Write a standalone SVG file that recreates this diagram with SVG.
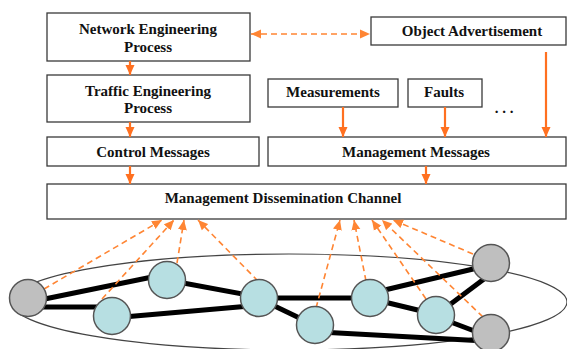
<svg xmlns="http://www.w3.org/2000/svg" width="567" height="349" viewBox="0 0 567 349">
  <style>
    .box { fill: #ffffff; stroke: #3a3a3a; stroke-width: 1.3; }
    .lbl { font-family: "Liberation Serif", "Times New Roman", serif; font-weight: bold; font-size: 15px; fill: #111; text-anchor: middle; }
    .flow { stroke: #ff7020; stroke-width: 2.2; fill: none; marker-end: url(#solidHead); }
    .report { stroke: #ff8533; stroke-width: 1.6; stroke-dasharray: 6 4; fill: none; marker-end: url(#dashHead); }
    .link { stroke: #000; stroke-width: 5; stroke-linecap: butt; fill: none; }
    .router { fill: #bfbfbf; stroke: #555; stroke-width: 1.5; }
    .host { fill: #b7dfe2; stroke: #555; stroke-width: 1.5; }
    .domain { fill: none; stroke: #444; stroke-width: 1.2; }
  </style>
  <defs>
    <marker id="solidHead" markerUnits="userSpaceOnUse" markerWidth="10" markerHeight="10" refX="10" refY="5" orient="auto">
      <path d="M0,0.5 L10,5 L0,9.5 z" fill="#ff7020"/>
    </marker>
    <marker id="dashHead" markerUnits="userSpaceOnUse" markerWidth="10" markerHeight="10" refX="10" refY="5" orient="auto-start-reverse">
      <path d="M0,0.5 L10,5 L0,9.5 z" fill="#ff8533"/>
    </marker>
  </defs>

  <!-- network domain outline -->
  <ellipse class="domain" cx="289" cy="302" rx="278" ry="48"/>

  <!-- boxes -->
  <g id="network-engineering">
    <rect class="box" x="47" y="13" width="203" height="48"/>
    <text class="lbl" x="148" y="34">Network Engineering</text>
    <text class="lbl" x="148" y="52">Process</text>
  </g>
  <g id="traffic-engineering">
    <rect class="box" x="47" y="75" width="203" height="47"/>
    <text class="lbl" x="148" y="96">Traffic Engineering</text>
    <text class="lbl" x="148" y="113">Process</text>
  </g>
  <g id="control-messages">
    <rect class="box" x="47" y="137" width="212" height="29"/>
    <text class="lbl" x="153" y="157">Control Messages</text>
  </g>
  <g id="object-advertisement">
    <rect class="box" x="371" y="17" width="195" height="28"/>
    <text class="lbl" x="472" y="36">Object Advertisement</text>
  </g>
  <g id="measurements">
    <rect class="box" x="268" y="79" width="130" height="28"/>
    <text class="lbl" x="333" y="97">Measurements</text>
  </g>
  <g id="faults">
    <rect class="box" x="408" y="79" width="74" height="28"/>
    <text class="lbl" x="444" y="97">Faults</text>
  </g>
  <g id="more">
    <text class="lbl" x="504" y="113">. . .</text>
  </g>
  <g id="management-messages">
    <rect class="box" x="268" y="137" width="298" height="29"/>
    <text class="lbl" x="416" y="157">Management Messages</text>
  </g>
  <g id="dissemination-channel">
    <rect class="box" x="47" y="184" width="519" height="35"/>
    <text class="lbl" x="283" y="203">Management Dissemination Channel</text>
  </g>

  <!-- connectors -->
  <g id="connectors">
    <!-- process flow -->
    <line class="flow" x1="130" y1="61" x2="130" y2="75"/>
    <line class="flow" x1="130" y1="122" x2="130" y2="137"/>
    <line class="flow" x1="130" y1="166" x2="130" y2="184"/>
    <line class="flow" x1="343" y1="107" x2="343" y2="137"/>
    <line class="flow" x1="445" y1="107" x2="445" y2="137"/>
    <line class="flow" x1="546" y1="52" x2="546" y2="137"/>
    <line class="flow" x1="426" y1="166" x2="426" y2="184"/>
    <line class="report" x1="251" y1="34" x2="370" y2="34" marker-start="url(#dashHead)"/>

    <!-- physical links -->
    <line class="link" x1="30" y1="302" x2="162" y2="275"/>
    <line class="link" x1="40" y1="307" x2="100" y2="307"/>
    <line class="link" x1="112" y1="318" x2="250" y2="306"/>
    <line class="link" x1="167" y1="280" x2="259" y2="297"/>
    <line class="link" x1="259" y1="298" x2="370" y2="298"/>
    <line class="link" x1="262" y1="300" x2="312" y2="324"/>
    <line class="link" x1="320" y1="332" x2="485" y2="341"/>
    <line class="link" x1="372" y1="293" x2="490" y2="265"/>
    <line class="link" x1="372" y1="299" x2="430" y2="313"/>
    <line class="link" x1="440" y1="312" x2="488" y2="276"/>
    <line class="link" x1="440" y1="318" x2="485" y2="335"/>

    <!-- state reports to the dissemination channel -->
    <line class="report" x1="44" y1="289" x2="162" y2="220"/>
    <line class="report" x1="102" y1="299" x2="174" y2="220"/>
    <line class="report" x1="177" y1="263" x2="184" y2="220"/>
    <line class="report" x1="258" y1="281" x2="198" y2="220"/>
    <line class="report" x1="316" y1="308" x2="340" y2="220"/>
    <line class="report" x1="366" y1="281" x2="354" y2="220"/>
    <line class="report" x1="426" y1="299" x2="372" y2="220"/>
    <line class="report" x1="483" y1="317" x2="382" y2="220"/>
    <line class="report" x1="473" y1="254" x2="393" y2="220"/>
  </g>

  <!-- network nodes -->
  <g id="node-a"><circle class="router" cx="28" cy="298" r="18.5"/></g>
  <g id="node-b"><circle class="host" cx="112" cy="316" r="18.5"/></g>
  <g id="node-c"><circle class="host" cx="167" cy="280" r="18.5"/></g>
  <g id="node-d"><circle class="host" cx="259" cy="298" r="18.5"/></g>
  <g id="node-e"><circle class="host" cx="315" cy="325" r="18.5"/></g>
  <g id="node-f"><circle class="host" cx="370" cy="298" r="18.5"/></g>
  <g id="node-g"><circle class="host" cx="436" cy="315" r="18.5"/></g>
  <g id="node-h"><circle class="router" cx="491" cy="263" r="18.5"/></g>
  <g id="node-i"><circle class="router" cx="491" cy="333" r="18.5"/></g>
</svg>
